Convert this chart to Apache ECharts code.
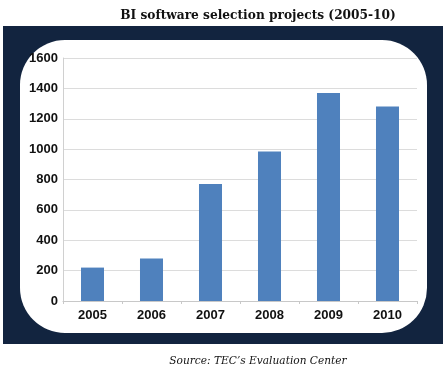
<!DOCTYPE html>
<html><head><meta charset="utf-8">
<script src="https://cdn.jsdelivr.net/npm/echarts@6/dist/echarts.min.js"></script>
<style>html,body{margin:0;padding:0;background:#fff}#c{width:447px;height:371px}</style>
</head><body><div id="c"></div>
<script>
var categories = ['2005','2006','2007','2008','2009','2010'];
var projects = [220, 280, 770, 985, 1370, 1280];
var yTicks = [0,200,400,600,800,1000,1200,1400,1600];

var chart = echarts.init(document.getElementById('c'), null, {renderer:'canvas'});
chart.setOption({
  animation:false,
  backgroundColor:'#ffffff',
  graphic:[
    {type:'rect', z:-10, shape:{x:3,y:26,width:440,height:318}, style:{fill:'#12243f'}},
    {type:'rect', z:-9, shape:{x:20,y:40,width:407,height:293,r:45}, style:{fill:'#ffffff'}}
  ],
  title:[
    {text:'BI software selection projects (2005-10)', left:253, top:5, textAlign:'center',
     textStyle:{fontFamily:'DejaVu Serif', fontWeight:'bold', fontSize:12.2, color:'#111'}},
    {text:'Source: TEC\u2019s Evaluation Center', left:253, top:351, textAlign:'center',
     textStyle:{fontFamily:'DejaVu Serif', fontStyle:'italic', fontWeight:'normal', fontSize:10.6, color:'#111'}}
  ],
  grid:{left:63, right:30, top:58, bottom:70, containLabel:false},
  xAxis:{type:'category', data:categories,
    axisLine:{lineStyle:{color:'#c8c8c8'}},
    axisTick:{show:true, alignWithLabel:false, lineStyle:{color:'#c8c8c8'}, length:3},
    axisLabel:{fontFamily:'Liberation Sans', fontWeight:'bold', fontSize:13, color:'#111', margin:8}},
  yAxis:{type:'value', min:0, max:1600, interval:200,
    axisLine:{show:true, lineStyle:{color:'#d0d0d0'}},
    axisTick:{show:false},
    splitLine:{lineStyle:{color:'#dcdcdc'}},
    axisLabel:{fontFamily:'Liberation Sans', fontWeight:'bold', fontSize:13, color:'#111', margin:5,
      formatter:function(v){return yTicks.indexOf(v)>=0?String(v):'';}}},
  series:[{type:'bar', data:projects, barWidth:'39%', itemStyle:{color:'#4f81bd'}}]
});
</script></body></html>
